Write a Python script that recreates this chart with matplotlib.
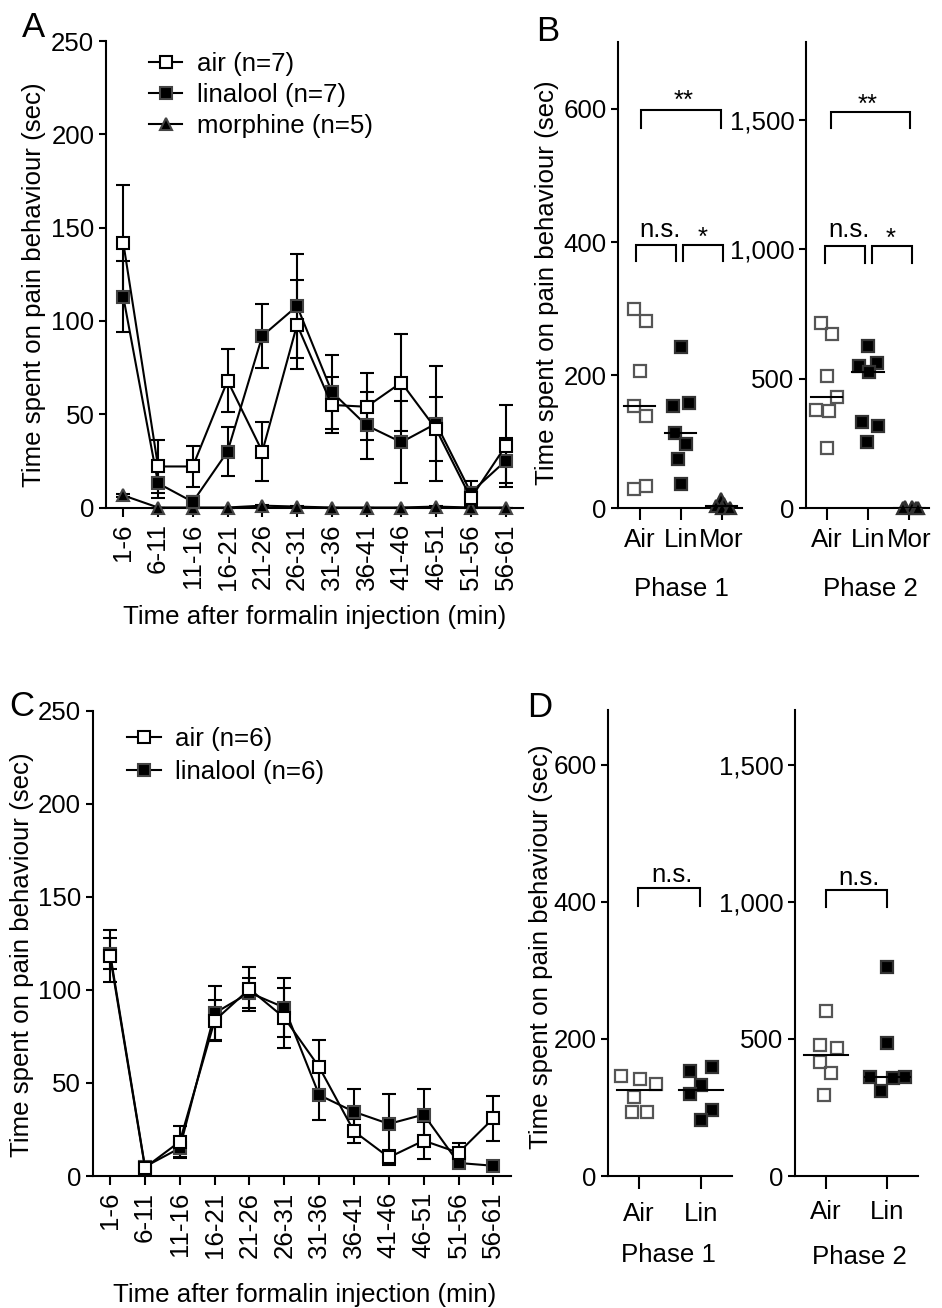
import numpy as np
import matplotlib
matplotlib.use("Agg")
import matplotlib.pyplot as plt
from matplotlib.lines import Line2D
from matplotlib.ticker import FuncFormatter

plt.rcParams['font.family'] = ['Liberation Sans', 'DejaVu Sans']
FS = 18.6
plt.rcParams['font.size'] = FS

# ---------------- data ----------------
intervals = ["1-6", "6-11", "11-16", "16-21", "21-26", "26-31",
             "31-36", "36-41", "41-46", "46-51", "51-56", "56-61"]

a_air = [142, 22, 22, 68, 30, 98, 55, 54, 67, 42, 5, 33]
a_air_err = [31, 14, 11, 17, 16, 24, 15, 18, 26, 17, 4, 22]
a_lin = [113, 13, 3, 30, 92, 108, 62, 44, 35, 45, 8, 25]
a_lin_err = [19, 8, 3, 13, 17, 28, 20, 18, 22, 31, 6, 12]
a_mor = [6.5, 0, 0, 0, 1, 0.5, 0, 0, 0, 0.5, 0, 0]
a_mor_err = [1, 0, 0, 0, 0.5, 0.3, 0, 0, 0, 0.3, 0, 0]

c_air = [118, 4.5, 18.5, 83.5, 100.5, 85, 58.5, 24, 10, 19, 12.5, 31]
c_air_err = [14, 2, 8.5, 11, 12, 16, 14.5, 6.5, 4, 10, 5, 12]
c_lin = [119.5, 5, 15, 87.5, 98.5, 90.5, 43.5, 34.5, 28, 33, 7, 5.5]
c_lin_err = [8.5, 2, 5.5, 14.5, 8, 16, 13.5, 12, 16, 14, 2, 1]

b_groups = ["Air", "Lin", "Mor"]
b1_air = [300, 282, 206, 154, 139, 29, 33]
b1_lin = [243, 154, 158, 113, 96, 74, 37]
b1_mor = [14, 6, 3, 1, 0]
b2_air = [717, 673, 511, 429, 380, 376, 234]
b2_lin = [628, 563, 551, 528, 335, 318, 257]
b2_mor = [6, 4, 2, 1, 0]

d_groups = ["Air", "Lin"]
d1_air = [146, 142, 134, 116, 93, 94]
d1_lin = [153, 159, 133, 119, 96, 82]
d2_air = [603, 479, 467, 415, 376, 294]
d2_lin = [763, 485, 360, 356, 361, 311]

# horizontal scatter offsets (layout only)
b1_air_dx = [-0.14, 0.14, 0, -0.14, 0.14, -0.14, 0.14]
b1_lin_dx = [0, -0.2, 0.2, -0.15, 0.12, -0.07, 0]
b1_mor_dx = [-0.02, 0.06, -0.14, 0.0, 0.2]
b2_air_dx = [-0.14, 0.14, 0, 0.24, -0.26, 0.06, 0]
b2_lin_dx = [0, 0.22, -0.21, 0.03, -0.15, 0.24, -0.02]
b2_mor_dx = [-0.1, 0.05, 0.15, -0.15, 0.2]
d1_air_dx = [-0.29, 0.02, 0.27, -0.08, -0.12, 0.12]
d1_lin_dx = [-0.18, 0.18, 0, -0.18, 0.18, 0]
d2_air_dx = [0, -0.1, 0.18, -0.09, 0.09, -0.03]
d2_lin_dx = [0, 0, -0.28, 0.09, 0.28, -0.1]

# ---------------- figure ----------------
W, H = 942, 1308
fig = plt.figure(figsize=(W / 100, H / 100), dpi=100)


def px_axes(left, right, top, bottom):
    return fig.add_axes([left / W, 1 - bottom / H, (right - left) / W, (bottom - top) / H])


def ftext(x, y, s, **kw):
    fig.text(x / W, 1 - y / H, s, **kw)


LW = 1.5


def style(ax, xtick_len, xpad):
    for s in ("top", "right"):
        ax.spines[s].set_visible(False)
    for s in ("left", "bottom"):
        ax.spines[s].set_linewidth(LW)
    ax.tick_params(axis="y", direction="out", length=5.3, width=LW, pad=3, labelsize=FS)
    ax.tick_params(axis="x", direction="out", length=xtick_len, width=LW, pad=xpad, labelsize=FS)


comma = FuncFormatter(lambda v, p: f"{v:,.0f}")

# ---------- time-course panels ----------
def timecourse(ax, series):
    x = np.arange(len(intervals))
    for vals, errs, mk, fc, ec, ms in series:
        ax.errorbar(x, vals, yerr=errs, color="black", lw=LW, elinewidth=LW,
                    capsize=5, capthick=LW, marker=mk, markersize=ms,
                    markerfacecolor=fc, markeredgecolor=ec, markeredgewidth=1.5,
                    clip_on=False, zorder=3)
    ax.set_xlim(-0.5, 11.5)
    ax.set_ylim(0, 250)
    ax.set_yticks([0, 50, 100, 150, 200, 250])
    ax.set_xticks(x)
    ax.set_xticklabels(intervals, rotation=90)
    style(ax, 6.5, 5)


axA = px_axes(105.9, 523.0, 41.2, 507.5)
timecourse(axA, [
    (a_mor, a_mor_err, "^", "black", "#444444", 8),
    (a_lin, a_lin_err, "s", "black", "#444444", 9),
    (a_air, a_air_err, "s", "white", "black", 9),
])
hA = [Line2D([], [], color="black", lw=LW, marker="s", ms=9, mfc="white", mec="black", mew=1.5),
      Line2D([], [], color="black", lw=LW, marker="s", ms=9, mfc="black", mec="#444444", mew=1.5),
      Line2D([], [], color="black", lw=LW, marker="^", ms=8, mfc="black", mec="#444444", mew=1.5)]
axA.legend(hA, ["air (n=7)", "linalool (n=7)", "morphine (n=5)"], loc="upper left",
           bbox_to_anchor=(0.103, 0.976), frameon=False, fontsize=FS, handlelength=1.3,
           handletextpad=0.55, labelspacing=0.27, borderpad=0, borderaxespad=0)

axC = px_axes(92.7, 510.8, 710.7, 1176)
timecourse(axC, [
    (c_lin, c_lin_err, "s", "black", "#444444", 9),
    (c_air, c_air_err, "s", "white", "black", 9),
])
hC = hA[:2]
axC.legend(hC, ["air (n=6)", "linalool (n=6)"], loc="upper left",
           bbox_to_anchor=(0.082, 0.964), frameon=False, fontsize=FS, handlelength=1.3,
           handletextpad=0.55, labelspacing=0.35, borderpad=0, borderaxespad=0)

# ---------- scatter panels ----------
def scatter_panel(ax, groups, data, dxs, ylim, yticks, half, xlim, xtick_len, xpad):
    styles = [("s", "none", "#555555", 8), ("s", "black", "#333333", 8), ("^", "black", "#333333", 8)]
    for i, (vals, dx) in enumerate(zip(data, dxs)):
        mk, fc, ec, ms = styles[i]
        xs = i + np.asarray(dx)
        ax.plot(xs, vals, linestyle="none", marker=mk, markersize=ms, markerfacecolor=fc,
                markeredgecolor=ec, markeredgewidth=1.6, clip_on=False, zorder=3)
        med = np.median(vals)
        ax.plot([i - half, i + half], [med, med], color="black", lw=LW, zorder=4)
    ax.set_xlim(*xlim)
    ax.set_ylim(*ylim)
    ax.set_yticks(yticks)
    ax.yaxis.set_major_formatter(comma)
    ax.set_xticks(range(len(groups)))
    ax.set_xticklabels(groups)
    style(ax, xtick_len, xpad)


def bracket(ax, x1, x2, y, leg, text, tx, off):
    ax.plot([x1, x1, x2, x2], [y - leg, y, y, y - leg], color="black", lw=LW,
            solid_joinstyle="miter", clip_on=False)
    ax.annotate(text, (tx, y), xytext=(0, off), textcoords="offset points",
                ha="center", va="baseline", fontsize=FS)


axB1 = px_axes(618.3, 741.7, 42.4, 508.3)
scatter_panel(axB1, b_groups, [b1_air, b1_lin, b1_mor], [b1_air_dx, b1_lin_dx, b1_mor_dx],
              (0, 700), [0, 200, 400, 600], 0.38, (-0.53, 2.49), 8.4, 6)
bracket(axB1, 0.02, 1.98, 598, 26, "**", 1.06, 1.8)
bracket(axB1, -0.1, 0.88, 396, 25, "n.s.", 0.49, 5.9)
bracket(axB1, 1.06, 2.04, 396, 25, "*", 1.53, 0)

axB2 = px_axes(806, 929.3, 42.4, 508.3)
scatter_panel(axB2, b_groups, [b2_air, b2_lin, b2_mor], [b2_air_dx, b2_lin_dx, b2_mor_dx],
              (0, 1800), [0, 500, 1000, 1500], 0.38, (-0.5, 2.48), 8.4, 6)
bracket(axB2, 0.1, 2.02, 1532, 64, "**", 0.98, 0)
bracket(axB2, -0.04, 0.93, 1015, 66, "n.s.", 0.55, 5.9)
bracket(axB2, 1.1, 2.07, 1015, 66, "*", 1.55, 0)

axD1 = px_axes(608.3, 731.7, 710, 1176)
scatter_panel(axD1, d_groups, [d1_air, d1_lin], [d1_air_dx, d1_lin_dx],
              (0, 680), [0, 200, 400, 600], 0.36, (-0.5, 1.5), 9.4, 9)
bracket(axD1, -0.02, 0.99, 420, 26, "n.s.", 0.54, 4.7)

axD2 = px_axes(795, 918.3, 710, 1176)
scatter_panel(axD2, d_groups, [d2_air, d2_lin], [d2_air_dx, d2_lin_dx],
              (0, 1700), [0, 500, 1000, 1500], 0.36, (-0.5, 1.5), 9.4, 8)
bracket(axD2, 0.0, 1.0, 1043, 63, "n.s.", 0.54, 4.0)

# ---------- labels ----------
ylab = "Time spent on pain behaviour (sec)"
ftext(34, 285, ylab, rotation=90, ha="center", va="center", fontsize=FS)
ftext(22, 955, ylab, rotation=90, ha="center", va="center", fontsize=FS)
ftext(547, 283, ylab, rotation=90, ha="center", va="center", fontsize=FS)
ftext(541, 947, ylab, rotation=90, ha="center", va="center", fontsize=FS)

xlab = "Time after formalin injection (min)"
ftext(315, 617, xlab, ha="center", va="center", fontsize=FS)
ftext(305, 1295, xlab, ha="center", va="center", fontsize=FS)

ftext(681, 589, "Phase 1", ha="center", va="center", fontsize=FS)
ftext(870, 589, "Phase 2", ha="center", va="center", fontsize=FS)
ftext(668, 1255, "Phase 1", ha="center", va="center", fontsize=FS)
ftext(859, 1257, "Phase 2", ha="center", va="center", fontsize=FS)

for s, x, y in [("A", 22, 37), ("B", 536, 40.7), ("C", 9, 716), ("D", 527, 717)]:
    ftext(x, y, s, ha="left", va="baseline", fontsize=25)

fig.savefig("out.png", dpi=100)
